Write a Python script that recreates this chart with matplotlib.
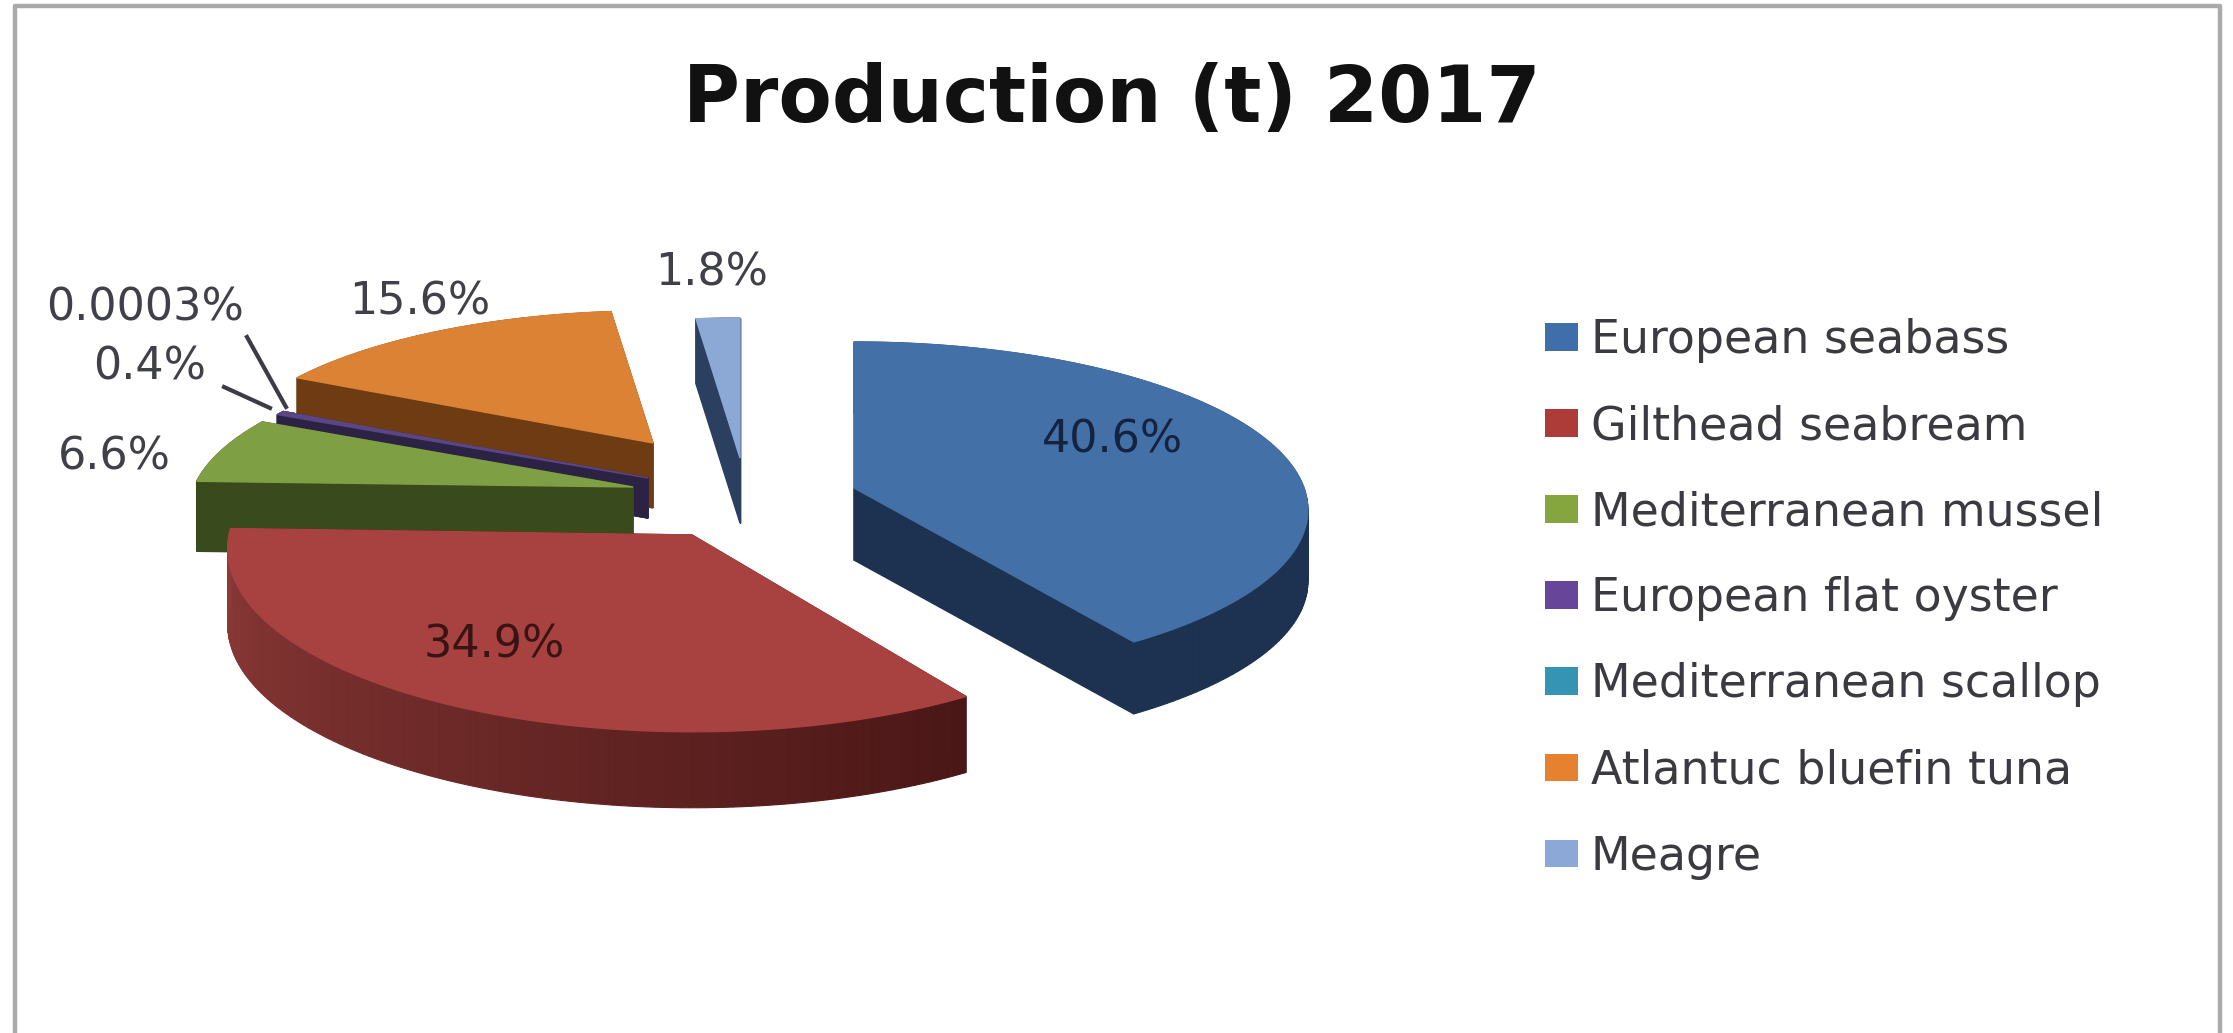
import numpy as np
import matplotlib
matplotlib.use('Agg')
from matplotlib import pyplot as plt
from matplotlib.patches import Polygon, Patch
from matplotlib.colors import to_rgb

# Datos
species = ['European seabass', 'Gilthead seabream', 'Mediterranean mussel', 'European flat oyster',
           'Mediterranean scallop', 'Atlantuc bluefin tuna', 'Meagre']
production = [40.6, 34.9, 6.6, 0.4, 0.0003, 15.6, 1.8]
pct_labels = ['40.6%', '34.9%', '6.6%', '0.4%', '0.0003%', '15.6%', '1.8%']

# Colores: cara superior, pared (inicio y fin del arco), leyenda, etiquetas
top_colors = ['#4470A8', '#A84240', '#7F9F45', '#5B4684', '#3A93AD', '#DB8235', '#8CA8D4']
wall_start = ['#1C3250', '#4A1716', '#394A1C', '#2C2244', '#1C4A58', '#6E3B12', '#2B3F60']
wall_end = ['#1C3250', '#8E3B39', '#394A1C', '#2C2244', '#1C4A58', '#6E3B12', '#2B3F60']
legend_colors = ['#3F6EAB', '#AD3B38', '#85A63F', '#67469A', '#3594B3', '#E5812F', '#8CA8D6']
label_colors = ['#14233F', '#3A1414', '#404048', '#404048', '#404048', '#404048', '#404048']

# Posicion de cada porcion en pixeles: centro, radios, profundidad, perspectiva
centers = [(854, 488), (692, 535), (633, 487), (648, 478), (648, 478), (653, 443), (740, 458)]
radii = [(450, 165), (463, 182), (439, 159), (439, 155), (439, 155), (428, 152), (448, 161)]
depths = [72, 76, 70, 40, 40, 65, 65]
persp = [0.13, 0.075, 0.15, 0.15, 0.15, 0.15, 0.15]
draw_order = [4, 5, 3, 2, 1, 6, 0]

label_pos = [(1112, 440), (494, 645), (114, 457), (150, 367), (145, 308), (420, 302), (712, 273)]
leaders = {3: ((224, 387), (270, 408)), 4: ((247, 337), (286, 407))}


def project(i, ang):
    # elipse con perspectiva: lo de adelante se ve mas grande
    cx, cy = centers[i]
    a, b = radii[i]
    u, v = np.cos(np.radians(ang)), np.sin(np.radians(ang))
    p = 1 / (1 + persp[i] * v)
    return cx + a * u * p, cy - b * v * p


def draw_slice(ax, i, start, end):
    cx, cy = centers[i]
    d = depths[i]
    angs = np.linspace(start, end, max(2, int(abs(end - start)) + 2))
    xs, ys = project(i, angs)
    c0, c1 = np.array(to_rgb(wall_start[i])), np.array(to_rgb(wall_end[i]))

    # caras del corte
    for x, y in [(xs[0], ys[0]), (xs[-1], ys[-1])]:
        ax.add_patch(Polygon([(cx, cy), (x, y), (x, y + d), (cx, cy + d)], closed=True,
                             fc=wall_start[i], ec=wall_start[i], lw=1))
    # pared curva con degradado
    for k in range(len(angs) - 1):
        t = k / max(1, len(angs) - 2)
        col = c0 * (1 - t) + c1 * t
        ax.add_patch(Polygon([(xs[k], ys[k]), (xs[k + 1], ys[k + 1]), (xs[k + 1], ys[k + 1] + d), (xs[k], ys[k] + d)],
                             closed=True, fc=col, ec=col, lw=0.8))
    # cara superior
    pts = [(cx, cy)] + list(zip(xs, ys))
    ax.add_patch(Polygon(pts, closed=True, fc=top_colors[i], ec=top_colors[i], lw=1))


fig = plt.figure(figsize=(22.33, 10.33), dpi=100)
ax = fig.add_axes([0, 0, 1, 1])
ax.set_xlim(0, 2233)
ax.set_ylim(1033, 0)
ax.axis('off')

# Marco
ax.plot([15, 15, 2220, 2220], [1033, 6, 6, 1033], color='#AAAAAA', lw=3.2)

ax.text(1112, 100, 'Production (t) 2017', fontsize=56, fontweight='bold', color='#111111',
        ha='center', va='center', family='DejaVu Sans')

# Angulos calculados desde los valores, sentido horario desde arriba
total = sum(production)
sweep = 360 * np.array(production) / total
ends = 90 - np.cumsum(sweep)
starts = ends + sweep
for i in draw_order:
    draw_slice(ax, i, starts[i], ends[i])

for i, txt in enumerate(pct_labels):
    ax.text(label_pos[i][0], label_pos[i][1], txt, fontsize=32, color=label_colors[i], ha='center', va='center',
            family='DejaVu Sans')
for i in leaders:
    p0, p1 = leaders[i]
    ax.plot([p0[0], p1[0]], [p0[1], p1[1]], color='#3C3C46', lw=3)

handles = [Patch(fc=c, ec='none', label=s) for c, s in zip(legend_colors, species)]
ax.legend(handles=handles, loc='upper left', bbox_to_anchor=(1545 / 2233, 1 - 318 / 1033), frameon=False,
          prop={'family': 'DejaVu Sans', 'size': 33}, labelcolor='#3A3A40', handlelength=0.72, handleheight=0.55,
          handletextpad=0.28, labelspacing=0.897, borderpad=0, borderaxespad=0)

plt.savefig('out.png', dpi=100)
